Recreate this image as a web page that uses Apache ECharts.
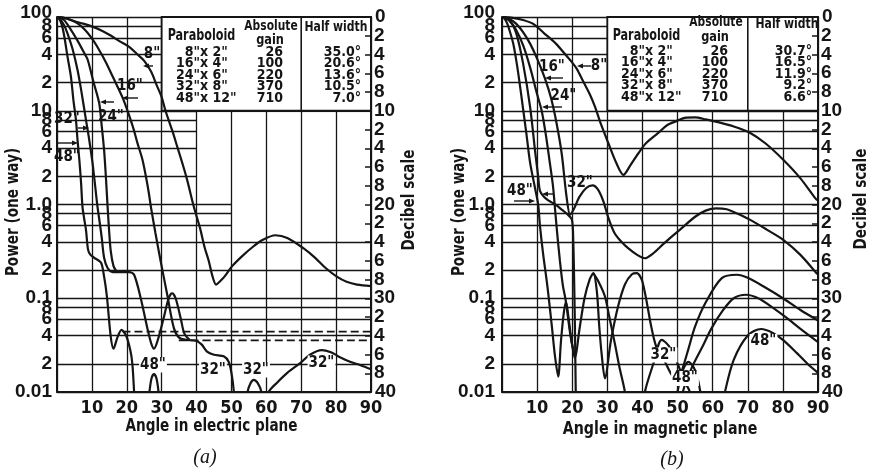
<!DOCTYPE html>
<html>
<head>
<meta charset="utf-8">
<script src="https://cdn.jsdelivr.net/npm/echarts@6/dist/echarts.min.js"></script>
<style>
  html, body { margin: 0; padding: 0; background: #fff; }
  #chart { width: 870px; height: 474px; }
</style>
</head>
<body>
<div id="chart"></div>
<script>
// values: [angle (deg), power (one way)]
// (a) electric plane
const a8 = [[0,100],[2.5,97],[5,90],[7.5,85],[10.5,78],[13,71],[15.5,63],[18,55],[20.7,48],[23,40],[25,34],[27,26],[28.5,19],[30,14],[31.1,10],[33,6.2],[34.5,4.1],[36,2.7],[37.3,1.83],[39.2,0.95],[41,0.56],[42.3,0.35],[43.5,0.25],[44.6,0.17],[45.6,0.14],[46.6,0.15],[48,0.17],[50.2,0.22],[53,0.28],[56,0.35],[59,0.42],[62.6,0.47],[66,0.44],[70.7,0.34],[74,0.27],[77,0.21],[80.2,0.17],[83,0.15],[86,0.14],[90,0.135]];
const a16 = [[0,100],[2,98],[4,93],[6,85],[8,73],[10,59],[12,45],[14,33],[16,23],[18.8,13.8],[20.5,9.3],[22,6.3],[23,4.6],[24.5,3.0],[25.7,1.8],[26.4,1.27],[26.9,0.95],[28.2,0.5],[29.7,0.25],[31.6,0.109],[33.5,0.048],[35,0.038],[37,0.036],[40,0.035],[41.5,0.032],[43,0.027],[45,0.025],[47.8,0.024],[49.2,0.021],[50,0.016],[50.7,0.01],[51,0.006]];
const a24 = [[0,100],[2,93],[4,73],[6,55],[8,40],[8.8,35],[10.5,20],[12.1,12],[12.8,7],[13.5,3.8],[14,2],[14.5,0.95],[14.9,0.55],[15.4,0.32],[16.2,0.22],[17,0.195]];
const a32 = [[0,100],[1,93],[2,82],[3,67],[4.5,45],[5.9,27],[7,16],[8.3,8],[9.2,5],[10.2,2.75],[11,1.5],[11.6,0.95],[12.1,0.7],[12.8,0.45],[13.5,0.27],[14.5,0.21],[16,0.19],[18,0.19],[20.7,0.19],[22.1,0.178],[24,0.1],[25.9,0.048],[27,0.033],[27.8,0.029],[28.8,0.035],[30.5,0.06],[32,0.1],[33,0.113],[34,0.1],[35.5,0.06],[36.5,0.042],[38,0.036]];
const a32b = [[54,0.006],[54.6,0.01],[55.5,0.0125],[56.4,0.0135],[57.5,0.0125],[58.6,0.01],[59,0.006]];
const a32c = [[60,0.006],[60.7,0.01],[63,0.0125],[66,0.016],[69.7,0.0203],[72.5,0.025],[75.9,0.028],[78.5,0.0265],[81.1,0.0235],[84,0.021],[87,0.0193],[90,0.0175]];
const a48 = [[0,100],[0.7,95],[1.4,82],[2.1,62],[3,38],[4,23],[4.7,13],[5.43,8],[5.9,4.8],[6.4,3.0],[6.9,1.7],[7.3,0.95],[7.8,0.7],[8.3,0.54],[8.9,0.33],[9.6,0.29],[10.7,0.27],[12.6,0.24],[13.5,0.17],[14.3,0.105],[15.4,0.039],[16.2,0.029],[17.3,0.038],[18.5,0.046],[19.8,0.04],[21,0.028],[21.6,0.02],[22.1,0.01],[22.4,0.006]];
const a48b = [[26,0.006],[26.5,0.01],[27.1,0.014],[27.8,0.0155],[28.5,0.014],[29.1,0.01],[29.5,0.006]];
const aDash1 = [[18.8,0.044],[90,0.044]];
const aDash2 = [[34.9,0.0355],[90,0.0355]];

// (b) magnetic plane
const b8 = [[0,100],[3,98],[6,93],[9,84],[12,67],[15.35,52],[18,40],[19.9,33],[21.3,28],[23,21],[25,15],[26.5,11],[28,7.5],[30.3,4.5],[32.5,2.8],[34.6,2.07],[36.5,2.6],[38.8,3.5],[41,4.5],[44.5,5.8],[47,7.0],[49.8,7.8],[52,8.4],[55,8.5],[58,8.1],[61.2,7.6],[66,6.8],[70.7,5.8],[75,4.5],[80.1,3.0],[85,1.9],[89.2,1.17],[90,1.1]];
const b16 = [[0,100],[2,96],[4,85],[6,69],[8,52],[10,36],[12.25,22],[14,13.5],[15.5,7.5],[17,3.5],[18.4,1.2],[19.4,0.78],[20.5,0.9],[22,1.2],[24,1.5],[25.8,1.6],[27.3,1.45],[28.8,1.1],[30.3,0.72],[32,0.5],[34,0.4],[36,0.34],[38.5,0.29],[40.7,0.267],[43,0.3],[46,0.38],[48.5,0.46],[51.2,0.56],[55,0.74],[58,0.86],[61,0.91],[64,0.89],[67,0.8],[70.7,0.685],[75.4,0.54],[80.1,0.42],[85,0.29],[89.6,0.185],[90,0.18]];
const b24 = [[0,100],[2,92],[4,73],[6,50],[8,29],[10,15],[11.3,10],[12.5,5.5],[13.5,3],[14.5,1.6],[15.1,0.9],[15.7,0.5],[16.5,0.25],[17.3,0.14],[18.2,0.092],[19.5,0.04],[20.8,0.023]];
const b24b = [[26,0.185],[27.5,0.15],[29.3,0.105],[30.5,0.065],[32.2,0.032],[33.5,0.018],[35,0.01],[35.5,0.006]];
const b24c = [[49.5,0.006],[50,0.01],[51.5,0.017],[53.1,0.021],[55,0.017],[56.5,0.01],[57,0.006]];
const b32 = [[0,100],[2,94],[4,68],[6,32],[8,11],[9.5,3.5],[10.3,2],[10.8,1.4],[12,1.2],[13.3,1.1],[14.6,1.03],[16,0.95],[17,0.88],[18.4,0.8],[19.9,0.69],[20.3,0.4],[20.6,0.12],[20.8,0.04],[21,0.01],[21.1,0.006]];
const b32b = [[40.3,0.006],[40.7,0.01],[43.1,0.02],[45.5,0.036],[47.5,0.031],[50,0.02],[52,0.013],[53.5,0.01],[54,0.006]];
const b32c = [[51,0.006],[51.5,0.01],[54,0.018],[57,0.03],[59.7,0.048],[63,0.075],[66,0.1],[69.5,0.109],[73,0.1],[77,0.08],[81,0.062],[85,0.047],[90,0.034]];
const b48 = [[0,100],[0.7,96],[1.5,85],[2.5,65],[3.3,50],[4.2,32],[5,20],[6,10.5],[7,5.5],[8,2.8],[9.4,1.5],[10.3,1.0],[10.8,0.6],[11.7,0.3],[12.7,0.157],[13.2,0.11],[14.2,0.05],[15.1,0.024],[16,0.0146],[16.8,0.035],[17.5,0.065],[18.2,0.092],[19,0.06],[19.8,0.035],[20.8,0.023],[22,0.045],[23.5,0.1],[25,0.16],[26,0.185],[27,0.12],[27.7,0.05],[28.4,0.025],[29.3,0.014],[31,0.035],[33,0.08],[35,0.14],[37,0.18],[38.4,0.185],[40,0.15],[42.6,0.048],[44,0.03],[46.4,0.021],[48,0.016],[49.8,0.013],[51,0.016],[53,0.028],[55,0.05],[58,0.09],[62.6,0.164],[66.9,0.178],[70,0.165],[75,0.13],[80,0.1],[85,0.075],[90,0.058]];
const b48b = [[62.5,0.006],[63.5,0.01],[66,0.022],[70,0.04],[73.8,0.047],[77,0.043],[80,0.036],[84,0.026],[87,0.02],[90,0.016]];

// axis ticks
const leftTickValues = [0.01,0.02,0.04,0.06,0.08,0.1,0.2,0.4,0.6,0.8,1,2,4,6,8,10,20,40,60,80,100];
const leftTickLabels = ['0.01','2','4','6','8','0.1','2','4','6','8','1.0','2','4','6','8','10','2','4','6','8','100'];

// table
const paraboloids = [['8"','x 2"'],['16"','x 4"'],['24"','x 6"'],['32"','x 8"'],['48"','x 12"']];
const gains = ['26','100','220','370','710'];
const halfWidthA = ['35.0°','20.6°','13.6°','10.5°','7.0°'];
const halfWidthB = ['30.7°','16.5°','11.9°','9.2°','6.6°'];

const BLACK = '#151515';
const COND = '"Liberation Sans Narrow", "DejaVu Sans Condensed", sans-serif';
const SANS = '"Liberation Sans", Arial, sans-serif';
const leftTickPos = leftTickValues.map(v => Math.log10(v));

function leftLabel(pos) {
  const i = leftTickPos.findIndex(p => Math.abs(p - pos) < 1e-4);
  return i < 0 ? '' : leftTickLabels[i];
}

function curve(data, g, dashed) {
  return {
    type: 'line', xAxisIndex: g, yAxisIndex: g * 3 + 1, data: data,
    symbol: 'none', smooth: 0.3, clip: true, z: 5, silent: true,
    lineStyle: { color: BLACK, width: dashed ? 1.8 : 2.2, type: dashed ? [8, 4] : 'solid' }
  };
}

function xAxisFor(g) {
  return {
    type: 'value', gridIndex: g, min: 0, max: 90, interval: 10, z: 2,
    axisLine: { show: true, onZero: false, lineStyle: { color: BLACK, width: 2 } },
    axisTick: { show: false },
    axisLabel: { color: BLACK, fontFamily: COND, fontWeight: 'bold', fontSize: 18, margin: 7,
      formatter: v => (v === 0 ? '' : String(v)) },
    splitLine: { show: true, lineStyle: { color: BLACK, width: 1.3 } }
  };
}

function yAxesFor(g, labelMargin) {
  return [
    {
      type: 'value', gridIndex: g, position: 'left', min: -2, max: 2, z: 0,
      axisLine: { show: true, lineStyle: { color: BLACK, width: 2 } },
      axisTick: { show: false, customValues: leftTickPos },
      axisLabel: { customValues: leftTickPos, formatter: leftLabel, margin: labelMargin,
        showMinLabel: true, showMaxLabel: false,
        color: BLACK, fontFamily: SANS, fontWeight: 'bold', fontSize: 19 },
      splitLine: { show: true, lineStyle: { color: BLACK, width: 1.3 } }
    },
    { type: 'log', logBase: 10, gridIndex: g, position: 'left', min: 0.01, max: 100, show: false },
    {
      type: 'value', gridIndex: g, position: 'right', min: 0, max: 40, interval: 2, inverse: true, z: 4,
      axisLine: { show: true, lineStyle: { color: BLACK, width: 2 } },
      axisTick: { show: true, inside: true, length: 6, lineStyle: { color: BLACK, width: 1.5 } },
      axisLabel: { color: BLACK, fontFamily: SANS, fontWeight: 'bold', fontSize: 19, margin: 3,
        showMinLabel: false, showMaxLabel: false,
        formatter: v => String(v % 10 === 0 ? v : v % 10) },
      splitLine: { show: false }
    }
  ];
}

const series = [];
[a8, a16, a24, a32, a32b, a32c, a48, a48b].forEach(d => series.push(curve(d, 0)));
[aDash1, aDash2].forEach(d => series.push(curve(d, 0, true)));
[b8, b16, b24, b24b, b24c, b32, b32b, b32c, b48, b48b].forEach(d => series.push(curve(d, 1)));

const chart = echarts.init(document.getElementById('chart'), null, { renderer: 'canvas' });
chart.setOption({
  animation: false,
  backgroundColor: '#fff',
  grid: [
    { left: 57, top: 17, width: 314, height: 375, containLabel: false, outerBoundsMode: 'none' },
    { left: 502, top: 17, width: 316, height: 375, containLabel: false, outerBoundsMode: 'none' }
  ],
  xAxis: [xAxisFor(0), xAxisFor(1)],
  yAxis: yAxesFor(0, 5).concat(yAxesFor(1, 7)),
  series: series
});

// annotations: end labels, axis titles, table boxes, blanked grid region, curve labels
const px = (g, x, y) => chart.convertToPixel({ xAxisIndex: g, yAxisIndex: g * 3 + 1 }, [x, y]);
const els = [];

function rect(g, x1, y1, x2, y2, z, stroke, dy1) {
  const p1 = px(g, x1, y1), p2 = px(g, x2, y2);
  els.push({ type: 'rect', z: z, silent: true,
    shape: { x: p1[0], y: p1[1] + (dy1 || 0), width: p2[0] - p1[0], height: p2[1] - p1[1] - (dy1 || 0) },
    style: { fill: '#fff', stroke: stroke ? BLACK : null, lineWidth: stroke ? 1.8 : 0 } });
}
function vline(g, x, y1, y2, z) {
  const p1 = px(g, x, y1), p2 = px(g, x, y2);
  els.push({ type: 'line', z: z, silent: true, shape: { x1: p1[0], y1: p1[1], x2: p2[0], y2: p2[1] },
    style: { stroke: BLACK, lineWidth: 1.6 } });
}
function text(t, x, y, font, align, sx, rot, bg) {
  const st = { text: t, fill: BLACK, font: font, align: align || 'center', verticalAlign: 'middle' };
  if (bg) { st.backgroundColor = '#fff'; st.padding = [0, 1]; }
  els.push({ type: 'text', x: x, y: y, z: 6, silent: true, scaleX: sx || 1, rotation: rot || 0, style: st });
}
function arrow(x1, x2, y) {
  const d = x2 > x1 ? 1 : -1;
  els.push({ type: 'line', z: 6, silent: true, shape: { x1: x1, y1: y, x2: x2 - d * 3, y2: y },
    style: { stroke: BLACK, lineWidth: 1.4 } });
  els.push({ type: 'polygon', z: 6, silent: true,
    shape: { points: [[x2, y], [x2 - d * 6, y - 2.6], [x2 - d * 6, y + 2.6]] }, style: { fill: BLACK } });
}

// end labels of the left and right scales (the axis drops them where they crowd)
const tickFont = 'bold 19px ' + SANS;
[[0, 5], [1, 7]].forEach(([g, m]) => {
  const top = px(g, 0, 100), bot = px(g, 90, 0.01);
  text(leftTickLabels[leftTickLabels.length - 1], top[0] - m, top[1] - 4, tickFont, 'right');
  text('0', bot[0] + 4, top[1], tickFont, 'left');
  text('40', bot[0] + 4, bot[1], tickFont, 'left');
});

// axis titles
const nameFont = 'bold 17px ' + COND;
text('Power (one way)', 14, 212, nameFont, 'center', 0.89, Math.PI / 2);
text('Power (one way)', 460, 212, nameFont, 'center', 0.89, Math.PI / 2);
text('Decibel scale', 410, 200, nameFont, 'center', 0.89, Math.PI / 2);
text('Decibel scale', 861.5, 199, nameFont, 'center', 0.89, Math.PI / 2);
text('Angle in electric plane', 211.5, 427, nameFont, 'center', 0.89);
text('Angle in magnetic plane', 660, 430, nameFont, 'center', 0.93);

// (a): the scan has no horizontal rules in the middle right part
rect(0, 40, 10, 90, 1.2, 1, false, 1.5);
rect(0, 50, 1.2, 90, 0.5, 1, false, 0);

const tblFont = 'bold 14px ' + COND;
function table(g, hw, cfg) {
  rect(g, 30, 100, 90, 10, 3, true);
  vline(g, 70, 100, 10, 3.5);
  text('Paraboloid', cfg.parX, 36, 'bold 15px ' + COND, 'center', 0.83);
  text('Absolute', cfg.gainX - 12, cfg.absY, tblFont, 'center', 0.85);
  text('gain', cfg.gainX - 13, cfg.absY + 14.5, tblFont, 'center', 0.9);
  text('Half width', cfg.hwX - 25, cfg.absY + 1.5, tblFont, 'center', 0.86);
  paraboloids.forEach((p, i) => {
    const y = cfg.rowY + i * 11.6;
    text(p[0], cfg.splitX, y, tblFont, 'right');
    text(p[1], cfg.splitX, y, tblFont, 'left');
    text(gains[i], cfg.gainX, y, tblFont, 'right');
    text(hw[i], cfg.hwX, y, tblFont, 'right');
  });
}
table(0, halfWidthA, { parX: 201.5, splitX: 200, gainX: 283, hwX: 361, absY: 26, rowY: 52 });
table(1, halfWidthB, { parX: 646.5, splitX: 645, gainX: 728, hwX: 812, absY: 22.5, rowY: 51 });

const lblFont = 'bold 15px ' + COND;
const clabel = (t, x, y, bg) => text(t, x, y, lblFont, 'center', 1, 0, bg);
// (a)
clabel('8"', 152, 54); arrow(153, 143, 66);
clabel('16"', 130, 86.5); arrow(138, 122, 98);
clabel('24"', 111, 117); arrow(114, 100, 102);
clabel('32"', 67, 119); arrow(78, 89, 128);
clabel('48"', 67, 157.5); arrow(58, 78, 143);
clabel('48"', 153, 365, true);
clabel('32"', 213, 370, true);
clabel('32"', 256, 370, true);
clabel('32"', 321.5, 363, true);
// (b)
clabel('16"', 552, 67.5); arrow(563, 545, 78);
clabel('8"', 599, 66); arrow(591, 577, 66);
clabel('24"', 563.5, 96.5); arrow(562, 542, 107);
clabel('48"', 520, 191); arrow(514, 535, 201);
arrow(554, 542, 194);
clabel('32"', 580, 183.5);
clabel('32"', 663.5, 355, true);
clabel('48"', 685, 378.5, true);
clabel('48"', 763.5, 341.5, true);

text('(a)', 205, 458, 'italic 20px "Liberation Serif", "DejaVu Serif", serif');
text('(b)', 672, 460, 'italic 20px "Liberation Serif", "DejaVu Serif", serif');

chart.setOption({ graphic: { elements: els } });
</script>
</body>
</html>
